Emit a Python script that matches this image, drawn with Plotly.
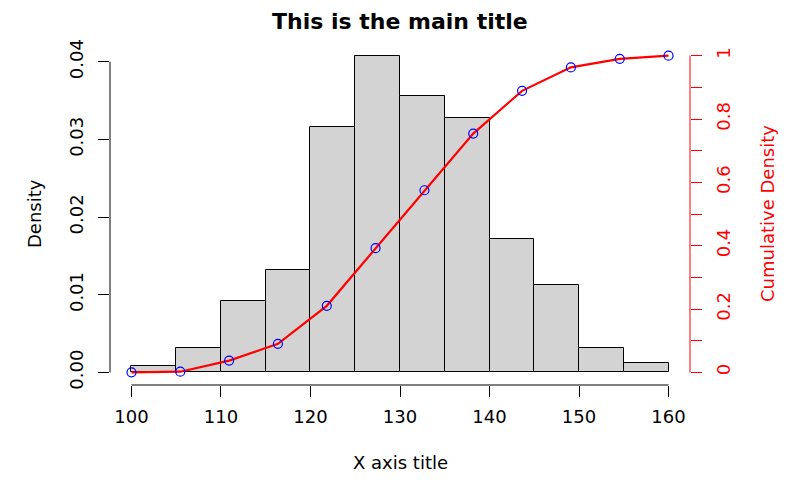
import plotly.graph_objects as go

# ---- data ----
bin_edges = [100, 105, 110, 115, 120, 125, 130, 135, 140, 145, 150, 155, 160]
density = [0.0008, 0.0032, 0.0092, 0.0132, 0.0316, 0.0408, 0.0356, 0.0328,
           0.0172, 0.0112, 0.0032, 0.0012]
cum_x = [100, 105.45, 110.91, 116.36, 121.82, 127.27, 132.73, 138.18,
         143.64, 149.09, 154.55, 160]
cum_y = [0.0, 0.002, 0.037, 0.090, 0.21, 0.392, 0.575, 0.754, 0.889,
         0.963, 0.990, 1.0]
x_ticks = [100, 110, 120, 130, 140, 150, 160]
y_ticks = [0.00, 0.01, 0.02, 0.03, 0.04]
y_tick_labels = ["0.00", "0.01", "0.02", "0.03", "0.04"]
y2_ticks = [0, 0.1, 0.2, 0.3, 0.4, 0.5, 0.6, 0.7, 0.8, 0.9, 1.0]
y2_tick_labels = ["0", "", "0.2", "", "0.4", "", "0.6", "", "0.8", "", "1"]

title = "This is the main title"
x_title = "X axis title"
y_title = "Density"
y2_title = "Cumulative Density"

FONT = "DejaVu Sans"

centers = [(a + b) / 2 for a, b in zip(bin_edges[:-1], bin_edges[1:])]
widths = [b - a for a, b in zip(bin_edges[:-1], bin_edges[1:])]

fig = go.Figure()
fig.add_trace(go.Bar(
    x=centers, y=density, width=widths,
    marker=dict(color="#d3d3d3", line=dict(color="black", width=1)),
    showlegend=False, hoverinfo="x+y",
))
fig.add_trace(go.Scatter(
    x=cum_x, y=cum_y, yaxis="y2", mode="lines+markers",
    line=dict(color="red", width=2.2),
    marker=dict(symbol="circle-open", color="blue", size=9, line=dict(width=1.2, color="blue")),
    showlegend=False,
))

xmin, xmax = bin_edges[0], bin_edges[-1]
xpad = (xmax - xmin) * 0.04
ymax = max(density)
ypad = ymax * 0.04

fig.update_layout(
    width=799, height=494,
    margin=dict(l=102, r=117, t=35, b=117),
    paper_bgcolor="white", plot_bgcolor="white",
    font=dict(family=FONT, size=18, color="black"),
    bargap=0,
    xaxis=dict(range=[xmin - xpad, xmax + xpad], tickvals=x_ticks,
               ticks="outside", ticklen=11, tickcolor="black", showline=False,
               showgrid=False, zeroline=False, tickfont=dict(size=18),
               ticklabelstandoff=4),
    yaxis=dict(range=[-ypad, ymax + ypad], tickvals=y_ticks, ticktext=y_tick_labels,
               ticks="outside", ticklen=11, tickcolor="black", showline=False,
               showgrid=False, zeroline=False, tickangle=-90, tickfont=dict(size=18),
               ticklabelstandoff=8),
    yaxis2=dict(range=[-0.04, 1.04], tickvals=y2_ticks, ticktext=y2_tick_labels,
                overlaying="y", side="right", ticks="outside", ticklen=11,
                tickcolor="red", showline=False, showgrid=False, zeroline=False,
                tickangle=-90, tickfont=dict(size=18, color="red"),
                ticklabelstandoff=6),
    shapes=[
        dict(type="line", xref="x", yref="paper", x0=min(x_ticks), x1=max(x_ticks),
             y0=0, y1=0, line=dict(color="black", width=1)),
        dict(type="line", xref="paper", yref="y", x0=0, x1=0,
             y0=min(y_ticks), y1=max(y_ticks), line=dict(color="black", width=1)),
        dict(type="line", xref="paper", yref="y2", x0=1, x1=1,
             y0=min(y2_ticks), y1=max(y2_ticks), line=dict(color="red", width=1)),
    ],
    annotations=[
        dict(text="<b>%s</b>" % title, xref="paper", yref="paper", x=0.5, y=1,
             yshift=22, showarrow=False, yanchor="middle",
             font=dict(size=22, family=FONT)),
        dict(text=x_title, xref="paper", yref="paper", x=0.5, y=0, yshift=-77,
             showarrow=False, yanchor="middle", font=dict(size=18, family=FONT)),
        dict(text=y_title, xref="paper", yref="paper", x=0, y=0.5, xshift=-76,
             showarrow=False, xanchor="center", textangle=-90,
             font=dict(size=18, family=FONT)),
        dict(text=y2_title, xref="paper", yref="paper", x=1, y=0.5, xshift=77,
             showarrow=False, xanchor="center", textangle=-90,
             font=dict(size=18, family=FONT, color="red")),
    ],
)

fig.write_html("out.html")
